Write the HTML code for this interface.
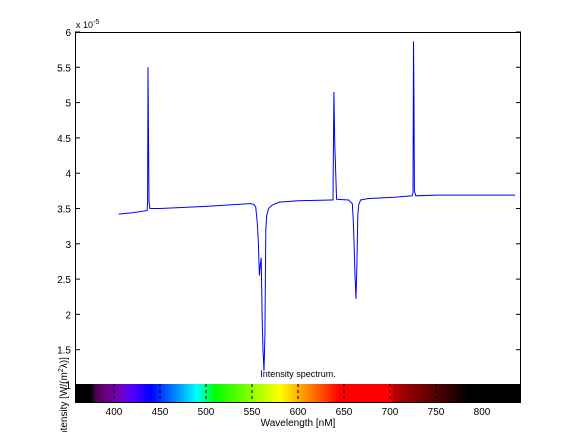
<!DOCTYPE html>
<html><head><meta charset="utf-8"><style>
body{margin:0;background:#fff;}
svg{display:block;font-family:"Liberation Sans",sans-serif;}
</style></head><body>
<svg id="chart" width="576" height="432" viewBox="0 0 576 432">
<defs><linearGradient id="spec" x1="0" x2="1" y1="0" y2="0"></linearGradient></defs>
<g id="plot"></g>
</svg>
<script>
// data arrays
const wavelengths = [405,420,436,436.5,437,437.5,438,439,450,500,548,552,554,555,556,557,558,559,560,561,562,563,564,565,566,568,572,580,600,636,638,639,640,642,655,659,660,661,662,663,664,665,666,668,676,705,724,725,725.5,726,726.5,728,750,800,836];
const intensity = [3.42,3.44,3.47,3.6,5.5,4.55,3.6,3.5,3.5,3.53,3.57,3.56,3.52,3.4,3.25,3.0,2.55,2.7,2.8,2.0,1.5,1.2,1.7,3.2,3.4,3.5,3.55,3.59,3.61,3.62,3.62,5.15,4.4,3.63,3.62,3.57,3.35,3.0,2.55,2.22,2.7,3.4,3.55,3.62,3.64,3.66,3.68,3.72,5.87,5.22,3.75,3.68,3.69,3.69,3.69];
const xTicks = [400,450,500,550,600,650,700,750,800];
const yTicks = [1,1.5,2,2.5,3,3.5,4,4.5,5,5.5,6];

const L=75,R=521,T=32,B=403;
const xMin=357.6,xMax=842.4,yMin=0.745,yMax=6;
const sx=v=>L+(v-xMin)/(xMax-xMin)*(R-L);
const sy=v=>B-(v-yMin)/(yMax-yMin)*(B-T);
const NS="http://www.w3.org/2000/svg";
const g=document.getElementById('plot');
function mk(tag,attrs,parent){const e=document.createElementNS(NS,tag);for(const k in attrs)e.setAttribute(k,attrs[k]);(parent||g).appendChild(e);return e;}

function wlColor(w){let r=0,gg=0,b=0;
 if(w>=380&&w<440){r=-(w-440)/60;b=1;}else if(w<490&&w>=440){gg=(w-440)/50;b=1;}
 else if(w>=490&&w<510){gg=1;b=-(w-510)/20;}else if(w>=510&&w<580){r=(w-510)/70;gg=1;}
 else if(w>=580&&w<645){r=1;gg=-(w-645)/65;}else if(w>=645&&w<=780){r=1;}
 let f=0; if(w>=380&&w<420)f=0.3+0.7*(w-380)/40;else if(w>=420&&w<=700)f=1;else if(w>700&&w<=780)f=0.3+0.7*(780-w)/80;
 if(w>700) f=Math.max(0,f-0.25);
 return `rgb(${Math.round(255*r*f)},${Math.round(255*gg*f)},${Math.round(255*b*f)})`;}
const grad=document.getElementById('spec');
for(let w=360;w<=840;w+=5){const s=document.createElementNS(NS,'stop');s.setAttribute('offset',((sx(w)-L)/(R-L)).toFixed(4));s.setAttribute('stop-color',wlColor(w));grad.appendChild(s);}

const cb=mk('rect',{x:L,y:384,width:R-L,height:B-384,fill:'url(#spec)'});


xTicks.forEach(t=>{const l=mk('line',{x1:sx(t),x2:sx(t),y1:384,y2:B,stroke:'#000','stroke-dasharray':'3,3','stroke-width':1});
 
 
 const tx=mk('text',{x:sx(t),y:415,'font-size':10,'text-anchor':'middle'});tx.textContent=t;
 
 });

yTicks.forEach(t=>{const y=sy(t);
 const l=mk('line',{x1:L,x2:L+5,y1:y,y2:y,stroke:'#000'});
 
 
 const l2=mk('line',{x1:R-5,x2:R,y1:y,y2:y,stroke:'#000'});
 
 
 const tx=mk('text',{x:L-4,y:y+4,'font-size':10,'text-anchor':'end'});tx.textContent=t;
 
 });

const pts=wavelengths.map((w,i)=>sx(w).toFixed(1)+','+sy(intensity[i]).toFixed(1)).join(' ');
const line=mk('polyline',{points:pts,fill:'none',stroke:'#0000ff','stroke-width':1});



const box=mk('rect',{x:L+0.5,y:T+0.5,width:R-L-1,height:B-T-1,fill:'none',stroke:'#000','stroke-width':1});



const exp=mk('text',{x:76,y:28,'font-size':9});exp.innerHTML='x 10<tspan dy="-4" font-size="7">-5</tspan>';


const title=mk('text',{x:298,y:377,'font-size':9,'text-anchor':'middle'});title.textContent='Intensity spectrum.';


const xl=mk('text',{x:298,y:426,'font-size':10,'text-anchor':'middle'});xl.textContent='Wavelength [nM]';


const yl=mk('text',{x:0,y:0,'font-size':10,'text-anchor':'middle',transform:'translate(67,398) rotate(-90)'});yl.innerHTML='Intensity [W/(m<tspan dy="-4" font-size="7">2</tspan><tspan dy="4">λ)]</tspan>';


</script>
</body></html>
